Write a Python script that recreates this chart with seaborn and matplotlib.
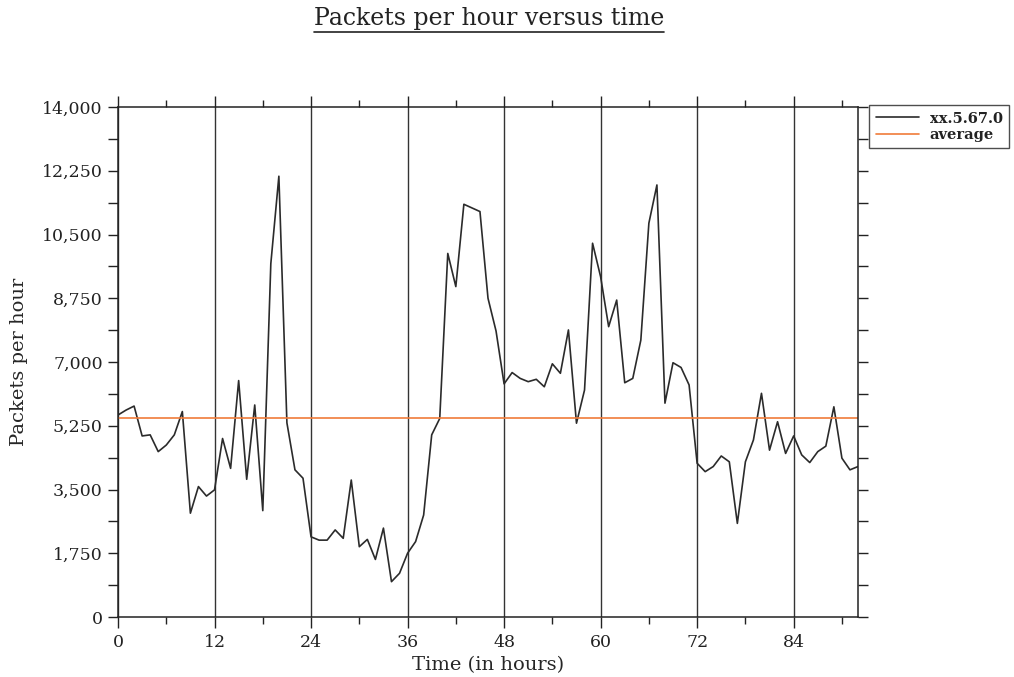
import numpy as np
import pandas as pd
import matplotlib
matplotlib.use("Agg")
import matplotlib.pyplot as plt
from matplotlib.lines import Line2D
from matplotlib.ticker import MultipleLocator, FuncFormatter
import seaborn as sns

# Hourly packet counts for host xx.5.67.0
hours = list(range(0, 93))
packets = [
    5545, 5680, 5790, 4970, 5000, 4540, 4720, 5000, 5640, 2850,
    3580, 3320, 3490, 4900, 4080, 6490, 3780, 5820, 2920, 9700,
    12100, 5330, 4040, 3810, 2200, 2110, 2110, 2390, 2160, 3760,
    1930, 2130, 1580, 2440, 970, 1200, 1750, 2070, 2800, 5000,
    5450, 9980, 9070, 11330, 11230, 11130, 8750, 7850, 6400, 6710,
    6550, 6460, 6525, 6320, 6950, 6690, 7880, 5320, 6230, 10260,
    9340, 7970, 8700, 6430, 6550, 7600, 10810, 11860, 5870, 6980,
    6850, 6370, 4220, 3990, 4130, 4420, 4260, 2570, 4260, 4860,
    6140, 4580, 5360, 4490, 4970, 4450, 4240, 4540, 4690, 5770,
    4360, 4040, 4130,
]
average_packets = 5450

series_name = "xx.5.67.0"
average_name = "average"
title_text = "Packets per hour versus time"
x_label = "Time (in hours)"
y_label = "Packets per hour"
x_ticks = [0, 12, 24, 36, 48, 60, 72, 84]
y_ticks = [0, 1750, 3500, 5250, 7000, 8750, 10500, 12250, 14000]

df = pd.DataFrame({"hour": hours, "packets": packets,
                   "avg": [average_packets] * len(hours)})

sns.set_theme(style="ticks")
plt.rcParams["font.family"] = ["DejaVu Serif"]

fig = plt.figure(figsize=(10.14, 6.77), dpi=100)
ax = fig.add_axes([118 / 1014, 1 - 617 / 677, 740 / 1014, 510 / 677])

line_col = "#2b2b2b"
avg_col = "#f07c3a"

sns.lineplot(data=df, x="hour", y="packets", ax=ax, color=line_col,
             linewidth=1.2, label=series_name)
sns.lineplot(data=df, x="hour", y="avg", ax=ax, color=avg_col,
             linewidth=1.2, label=average_name)

ax.set_xlim(0, 92)
ax.set_ylim(0, 14000)
ax.set_xticks(x_ticks)
ax.set_yticks(y_ticks)
ax.xaxis.set_minor_locator(MultipleLocator(6))
ax.yaxis.set_minor_locator(MultipleLocator(875))
ax.yaxis.set_major_formatter(FuncFormatter(lambda v, p: f"{int(v):,}"))

for s in ax.spines.values():
    s.set_visible(True)
    s.set_color("#222222")
    s.set_linewidth(1.1)

ax.tick_params(axis="both", which="both", direction="out", colors="#222222",
               top=True, right=True, labelsize=12.5, width=1.0)
ax.tick_params(axis="both", which="major", length=8, pad=4)
ax.tick_params(axis="both", which="minor", length=5)
ax.tick_params(axis="y", which="both", right=True, length=7)

ax.grid(axis="x", which="major", color="#333333", linewidth=1.0)
ax.grid(axis="y", visible=False)

ax.set_xlabel(x_label, fontsize=14, labelpad=4)
ax.set_ylabel(y_label, fontsize=14, labelpad=10)

leg = ax.legend(loc="upper left", bbox_to_anchor=(1.015, 1.004),
                frameon=True, fancybox=False, borderaxespad=0,
                handlelength=3.0, fontsize=10.5, borderpad=0.45,
                labelspacing=0.15, handletextpad=0.7)
leg.get_frame().set_edgecolor("#222222")
leg.get_frame().set_linewidth(1.0)
for t in leg.get_texts():
    t.set_fontweight("bold")
    t.set_color("#222222")

title = fig.text(489 / 1014, 1 - 18 / 677, title_text, ha="center",
                 va="center", fontsize=17, color="#222222")

# underline the title
fig.canvas.draw()
bb = title.get_window_extent().transformed(fig.transFigure.inverted())
fig.add_artist(Line2D([bb.x0, bb.x1], [bb.y0 - 0.004, bb.y0 - 0.004],
                      transform=fig.transFigure, color="#222222",
                      linewidth=1.2))

fig.savefig("out.png", dpi=100, facecolor="white")
